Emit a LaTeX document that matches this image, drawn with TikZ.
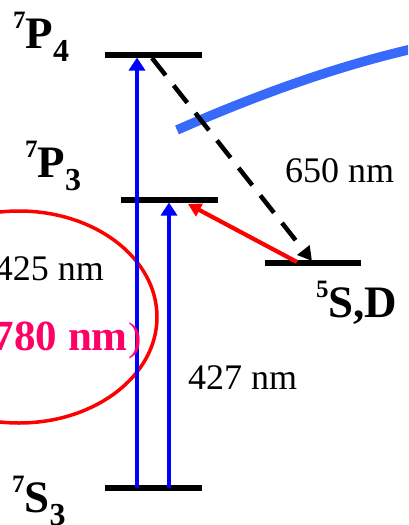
\documentclass[tikz,border=0pt]{standalone}
\usepackage{fontspec}
\setmainfont{Liberation Serif}
\usetikzlibrary{arrows.meta}
\definecolor{lineblue}{RGB}{0,0,255}
\definecolor{curveblue}{RGB}{55,105,250}
\definecolor{pinkred}{RGB}{255,0,102}
\definecolor{arrowred}{RGB}{255,0,0}
\newcommand{\lvlabel}[3]{{\fontsize{25}{25}\selectfont\raisebox{20pt}{#1}}#2{\fontsize{32}{32}\selectfont\raisebox{-13pt}{#3}}}
\begin{document}
\begin{tikzpicture}[x=1pt,y=-1pt,
  level/.style={line width=5.5pt},
  excite/.style={draw=lineblue, line width=4.5pt, -{Triangle[length=13pt,width=16pt]}},
  decay/.style={draw=black, line width=4.5pt, dash pattern=on 22pt off 13pt, -{Triangle[length=14pt,width=15pt]}},
  pump/.style={draw=arrowred, line width=4.2pt, -{Triangle[length=13pt,width=14pt]}},
  lvltext/.style={inner sep=0pt, font=\fontsize{45}{45}\selectfont\bfseries},
  wavetext/.style={inner sep=0pt, font=\fontsize{36}{36}\selectfont}]
\useasboundingbox (0,0) rectangle (408,525);
\begin{scope}
\clip (0,0) rectangle (408,525);
% coordinates of levels
\coordinate (p4l) at (105,55);  \coordinate (p4r) at (202,55);
\coordinate (p3l) at (121,200); \coordinate (p3r) at (218,200);
\coordinate (sdl) at (265,263); \coordinate (sdr) at (361,263);
\coordinate (s3l) at (105,488); \coordinate (s3r) at (202,488);
% arrow end points
\coordinate (a1s) at (137,488); \coordinate (a1e) at (137,57.5);
\coordinate (a2s) at (169,488); \coordinate (a2e) at (169,202.5);
\coordinate (ds) at (152,58);  \coordinate (de) at (312,261);
\coordinate (rs) at (297,262); \coordinate (re) at (188,204);
\coordinate (cs) at (177,130); \coordinate (ce) at (412,49);
\coordinate (ellc) at (19,317);

% red ellipse
\draw[arrowred, line width=3.5pt] (ellc) ellipse [x radius=138, y radius=106];
% blue curve
\draw[curveblue, line width=9.5pt] (cs) .. controls (250,98) and (330,68) .. (ce);
% levels
\draw[level] (p4l) -- (p4r);
\draw[level] (p3l) -- (p3r);
\draw[level] (sdl) -- (sdr);
\draw[level] (s3l) -- (s3r);
% transitions
\draw[excite] (a1s) -- (a1e);
\draw[excite] (a2s) -- (a2e);
\draw[decay] (ds) -- (de);
\draw[pump] (rs) -- (re);
% labels
\node[lvltext, anchor=base west] (lp4) at (13,48) {\lvlabel{7}{P}{4}};
\node[lvltext, anchor=base west] (lp3) at (25,177) {\lvlabel{7}{P}{3}};
\node[lvltext, anchor=base west] (lsd) at (316,317) {\lvlabel{5}{S,D}{}};
\node[lvltext, anchor=base west] (ls3) at (12,512) {\lvlabel{7}{S}{3}};
\node[wavetext, anchor=base west] (t650) at (285,182) {650 nm};
\node[wavetext, anchor=base west] (t427) at (188,389) {427 nm};
\node[wavetext, anchor=base east] (t425) at (104,280) {425 nm};
\node[inner sep=0pt, anchor=base east, text=pinkred, font=\fontsize{43}{43}\selectfont\bfseries] (t780) at (128,350) {(780 nm};
\node[inner sep=0pt, anchor=base west, text=pinkred, font=\fontsize{40}{40}\selectfont] (t780b) at (t780.base east) {)};
\end{scope}
\end{tikzpicture}
\end{document}
